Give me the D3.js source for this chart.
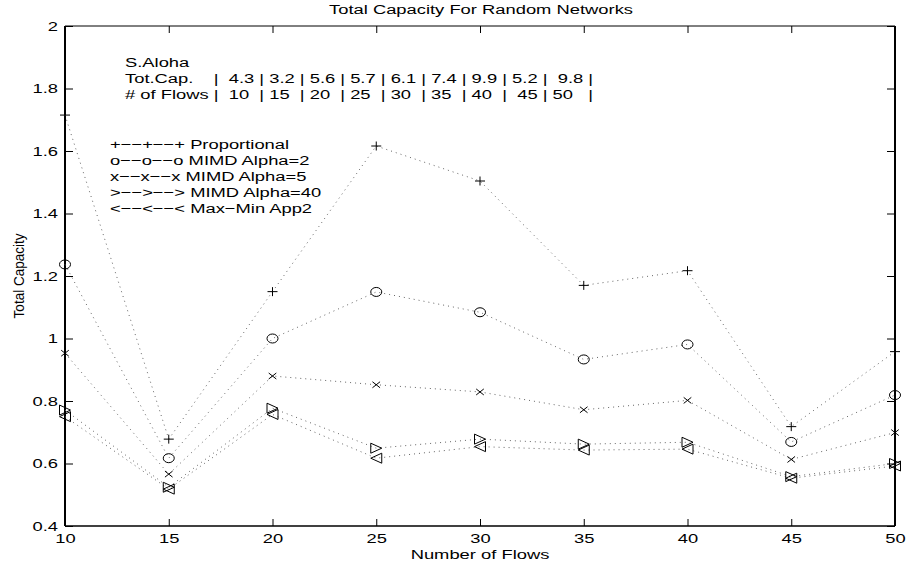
<!DOCTYPE html>
<html>
<head>
<meta charset="utf-8">
<script src="https://cdn.jsdelivr.net/npm/d3@7"></script>
<style>
  body { margin: 0; background: #fff; }
  svg { display: block; font-family: "Liberation Sans", Arial, sans-serif; }
  text { white-space: pre; }
</style>
</head>
<body>
<div id="chart"></div>
<script>
// chart data
const flows = [10, 15, 20, 25, 30, 35, 40, 45, 50]
const xTicks = [10, 15, 20, 25, 30, 35, 40, 45, 50]
const yTicks = [0.4, 0.6, 0.8, 1, 1.2, 1.4, 1.6, 1.8, 2]

const proportional = [1.715, 0.678, 1.15, 1.616, 1.504, 1.17, 1.217, 0.718, 0.958]
const mimdAlpha2 = [1.237, 0.617, 1.0, 1.149, 1.084, 0.933, 0.981, 0.669, 0.819]
const mimdAlpha5 = [0.953, 0.566, 0.88, 0.852, 0.829, 0.772, 0.802, 0.613, 0.699]
const mimdAlpha40 = [0.771, 0.524, 0.777, 0.649, 0.678, 0.662, 0.668, 0.558, 0.6]
const maxMinApp2 = [0.75, 0.518, 0.757, 0.617, 0.654, 0.643, 0.646, 0.553, 0.592]

const seriesNames = ['Proportional', 'MIMD Alpha=2', 'MIMD Alpha=5', 'MIMD Alpha=40', 'Max\u2212Min App2']
const seriesSymbols = ['+', 'o', 'x', '>', '<']
const seriesValues = [proportional, mimdAlpha2, mimdAlpha5, mimdAlpha40, maxMinApp2]

const noteLines = [
    'S.Aloha',
    'Tot.Cap.    |  4.3 | 3.2 | 5.6 | 5.7 | 6.1 | 7.4 | 9.9 | 5.2 |  9.8 |',
    '# of Flows |  10  | 15  | 20  | 25  | 30  | 35  | 40  |  45 | 50   |'
]

const width = 906, height = 569
const margin = {left: 65, right: 11, top: 26, bottom: 43}
const stretch = 1.36   // the original figure is stretched horizontally
const fontSize = 13.5

const svg = d3.select('#chart').append('svg')
    .attr('width', width)
    .attr('height', height)

const x = d3.scaleLinear().domain([10, 50]).range([margin.left, width - margin.right])
const y = d3.scaleLinear().domain([0.4, 2]).range([height - margin.bottom, margin.top])

function addText(px, py, str, anchor, sx) {
    return svg.append('text')
        .attr('transform', 'translate(' + px + ',' + py + ') scale(' + (sx || stretch) + ',1)')
        .attr('text-anchor', anchor || 'start')
        .attr('font-size', fontSize)
        .attr('fill', '#000')
        .text(str)
}

// Axes with inward ticks on all four sides
function styleAxis(g) {
    g.select('.domain').remove()
    g.selectAll('.tick line').attr('stroke', '#000').attr('stroke-width', 1)
    g.selectAll('text')
        .attr('font-size', fontSize)
        .attr('font-family', '"Liberation Sans", Arial, sans-serif')
        .attr('fill', '#000')
        .each(function() {
            const t = d3.select(this)
            const tx = +t.attr('x') || 0
            t.attr('x', tx / stretch).attr('transform', 'scale(' + stretch + ',1)')
        })
}

svg.append('g')
    .attr('transform', 'translate(' + margin.left + ',0)')
    .call(d3.axisLeft(y).tickValues(yTicks).tickSize(-8).tickPadding(7).tickFormat(d3.format('~g')))
    .call(styleAxis)

svg.append('g')
    .attr('transform', 'translate(' + (width - margin.right) + ',0)')
    .call(d3.axisRight(y).tickValues(yTicks).tickSize(-8).tickFormat(''))
    .call(styleAxis)

svg.append('g')
    .attr('transform', 'translate(0,' + (height - margin.bottom) + ')')
    .call(d3.axisBottom(x).tickValues(xTicks).tickSize(-7).tickPadding(7).tickFormat(d3.format('d')))
    .call(styleAxis)

svg.append('g')
    .attr('transform', 'translate(0,' + margin.top + ')')
    .call(d3.axisTop(x).tickValues(xTicks).tickSize(-7).tickFormat(''))
    .call(styleAxis)

// frame
const x0 = margin.left, x1 = width - margin.right
const y0 = margin.top, y1 = height - margin.bottom
svg.append('line').attr('x1', x0).attr('x2', x1).attr('y1', y0).attr('y2', y0).attr('stroke', '#000').attr('stroke-width', 1)
svg.append('line').attr('x1', x0).attr('x2', x1).attr('y1', y1).attr('y2', y1).attr('stroke', '#000').attr('stroke-width', 1.6)
svg.append('line').attr('x1', x0).attr('x2', x0).attr('y1', y0).attr('y2', y1).attr('stroke', '#000').attr('stroke-width', 2)
svg.append('line').attr('x1', x1).attr('x2', x1).attr('y1', y0).attr('y2', y1).attr('stroke', '#000').attr('stroke-width', 2)

// dotted series lines
const line = d3.line()
    .x((d, i) => x(flows[i]))
    .y(d => y(d))

seriesValues.forEach(vals => {
    svg.append('path')
        .datum(vals)
        .attr('d', line)
        .attr('fill', 'none')
        .attr('stroke', '#666')
        .attr('stroke-width', 1)
        .attr('stroke-dasharray', '1 4')
})

// markers
function markerPath(sym) {
    const p = d3.path()
    if (sym === '+') {
        p.moveTo(-5, 0); p.lineTo(5, 0)
        p.moveTo(0, -4.5); p.lineTo(0, 4.5)
    } else if (sym === 'x') {
        p.moveTo(-3.8, -3); p.lineTo(3.8, 3)
        p.moveTo(-3.8, 3); p.lineTo(3.8, -3)
    } else if (sym === '>') {
        p.moveTo(-5.5, -5); p.lineTo(5.5, 0); p.lineTo(-5.5, 5); p.closePath()
    } else if (sym === '<') {
        p.moveTo(5.5, -5); p.lineTo(-5.5, 0); p.lineTo(5.5, 5); p.closePath()
    }
    return p.toString()
}

seriesValues.forEach((vals, s) => {
    const sym = seriesSymbols[s]
    const g = svg.append('g')
    if (sym === 'o') {
        g.selectAll('ellipse')
            .data(vals)
            .enter()
            .append('ellipse')
            .attr('cx', (d, i) => x(flows[i]))
            .attr('cy', d => y(d))
            .attr('rx', 5.5)
            .attr('ry', 4.5)
            .attr('fill', 'none')
            .attr('stroke', '#000')
            .attr('stroke-width', 1)
    } else {
        g.selectAll('path')
            .data(vals)
            .enter()
            .append('path')
            .attr('transform', (d, i) => 'translate(' + x(flows[i]) + ',' + y(d) + ')')
            .attr('d', markerPath(sym))
            .attr('fill', 'none')
            .attr('stroke', '#000')
            .attr('stroke-width', 1)
    }
})

// titles
addText(481, 14, 'Total Capacity For Random Networks', 'middle')
addText(480, 559, 'Number of Flows', 'middle')
svg.append('text')
    .attr('transform', 'translate(24,276) scale(1.1,1) rotate(-90)')
    .attr('text-anchor', 'middle')
    .attr('font-size', fontSize)
    .text('Total Capacity')

// note in the top left
noteLines.forEach((str, i) => addText(125, 67 + i * 16, str))

// legend as plain text lines
seriesNames.forEach((name, i) => {
    const s = seriesSymbols[i]
    const str = s + '\u2212\u2212' + s + '\u2212\u2212' + s + ' ' + name
    addText(110, 149 + i * 16, str)
})
</script>
</body>
</html>
